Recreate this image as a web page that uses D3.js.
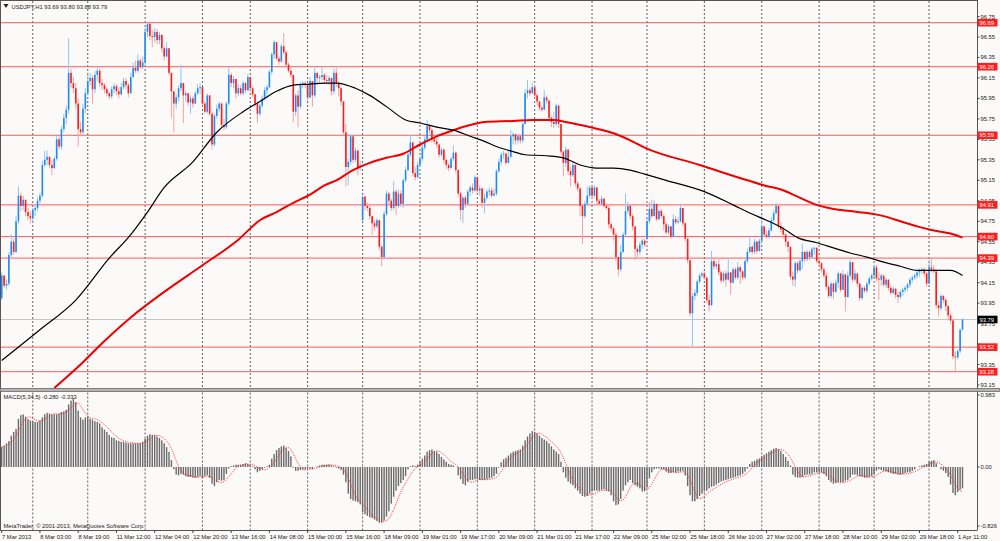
<!DOCTYPE html>
<html>
<head>
<meta charset="utf-8">
<script src="https://cdn.jsdelivr.net/npm/d3@7"></script>
<style>
body { margin: 0; background: #fcf9f9; }
svg { display: block; font-family: "Liberation Sans", Arial, sans-serif; }
</style>
</head>
<body>
<svg width="1000" height="541"></svg>
<script>
// USDJPY H1, bar 0 = 7 Mar 2013 11:00
var firstOpen = 94.00;
var gapOpens = { 151: 94.76, 270: 94.58 };

var closes = [
  94.22,94.12,94.14,94.42,94.55,94.45,94.75,95.00,94.90,94.96,
  94.84,94.80,94.78,94.86,94.88,94.95,95.00,95.30,95.35,95.38,
  95.30,95.27,95.36,95.55,95.48,95.65,95.76,95.84,96.20,96.10,
  96.05,95.90,95.65,95.62,95.85,96.00,96.12,96.15,96.04,96.18,
  96.22,96.10,96.08,96.04,96.00,95.97,96.04,96.07,96.02,95.99,
  96.06,96.12,96.08,96.00,96.16,96.25,96.22,96.32,96.26,96.30,
  96.60,96.68,96.56,96.55,96.60,96.52,96.57,96.44,96.36,96.44,
  96.20,96.02,95.90,95.96,96.05,96.10,95.98,96.00,95.91,95.95,
  95.90,96.00,96.05,96.06,95.90,95.82,95.98,95.80,95.50,95.78,
  95.85,95.90,95.69,95.67,95.90,96.18,96.10,96.14,96.00,96.05,
  96.00,96.10,96.03,96.16,96.05,95.99,95.90,95.80,95.88,95.95,
  96.03,96.06,96.21,96.38,96.50,96.34,96.31,96.46,96.40,96.28,
  96.22,96.18,95.82,95.98,95.87,96.08,96.10,96.08,95.96,96.12,
  95.98,96.20,96.15,96.16,96.18,96.13,96.12,96.15,96.02,96.20,
  96.10,96.05,95.92,95.62,95.28,95.33,95.58,95.35,95.44,95.28,
  95.28,94.99,94.90,94.88,94.80,94.73,94.70,94.76,94.50,94.40,
  94.82,95.02,94.95,94.88,95.04,94.90,95.02,94.92,95.15,95.25,
  95.40,95.52,95.22,95.18,95.30,95.36,95.47,95.55,95.68,95.64,
  95.55,95.53,95.50,95.40,95.45,95.35,95.30,95.27,95.36,95.42,
  95.25,95.02,94.86,94.98,94.92,95.04,95.08,95.05,95.18,95.05,
  95.07,94.93,94.98,95.04,95.05,95.00,95.02,95.24,95.33,95.40,
  95.41,95.32,95.38,95.58,95.60,95.54,95.58,95.54,95.70,96.00,
  96.03,96.00,96.06,95.98,95.92,95.86,95.84,95.96,95.93,95.76,
  95.72,95.70,95.88,95.70,95.43,95.32,95.45,95.24,95.20,95.30,
  95.12,95.07,94.90,94.80,94.92,95.00,95.08,95.00,95.08,94.95,
  94.92,94.97,94.90,94.88,94.72,94.68,94.62,94.40,94.28,94.45,
  94.62,94.85,94.90,94.80,94.70,94.48,94.45,94.52,94.56,94.52,
  94.75,94.87,94.80,94.92,94.77,94.85,94.80,94.72,94.64,94.70,
  94.60,94.77,94.74,94.75,94.88,94.73,94.58,94.37,93.85,94.02,
  94.05,94.16,94.22,94.24,94.20,93.98,93.93,94.36,94.31,94.33,
  94.25,94.17,94.24,94.18,94.25,94.15,94.28,94.20,94.30,94.26,
  94.20,94.36,94.45,94.50,94.45,94.55,94.46,94.56,94.70,94.62,
  94.60,94.66,94.76,94.83,94.90,94.70,94.67,94.62,94.55,94.50,
  94.21,94.18,94.34,94.27,94.36,94.45,94.38,94.45,94.40,94.48,
  94.49,94.36,94.34,94.28,94.22,94.11,94.02,94.14,94.06,94.15,
  94.24,94.08,94.23,94.01,94.22,94.35,94.18,94.24,94.14,94.00,
  94.10,94.07,94.14,94.19,94.22,94.30,94.19,94.18,94.22,94.13,
  94.18,94.10,94.05,94.09,94.03,94.01,94.06,94.08,94.10,94.13,
  94.18,94.20,94.22,94.25,94.27,94.28,94.24,94.14,94.30,94.28,
  94.26,93.93,93.90,94.02,93.98,93.92,93.83,93.78,93.43,93.42,
  93.48,93.69,93.79
];

var highs = [
  94.25,94.22,94.18,94.45,94.62,94.58,94.80,95.09,95.03,95.00,
  94.96,94.88,94.85,94.88,94.92,94.98,95.03,95.34,95.44,95.44,
  95.38,95.35,95.38,95.58,95.58,95.68,95.80,95.88,96.54,96.24,
  96.16,96.10,95.95,95.72,95.90,96.05,96.18,96.20,96.18,96.22,
  96.26,96.24,96.14,96.10,96.06,96.02,96.07,96.10,96.09,96.06,
  96.10,96.15,96.15,96.10,96.20,96.30,96.32,96.38,96.34,96.36,
  96.64,96.70,96.68,96.62,96.64,96.63,96.60,96.58,96.46,96.50,
  96.44,96.20,96.02,95.99,96.08,96.28,96.10,96.02,96.00,95.98,
  95.97,96.02,96.09,96.10,96.02,95.92,96.00,95.96,95.82,95.80,
  95.89,95.92,95.91,95.75,95.92,96.26,96.20,96.17,96.14,96.09,
  96.08,96.12,96.11,96.19,96.16,96.07,96.00,95.92,95.90,95.98,
  96.06,96.08,96.23,96.40,96.52,96.50,96.36,96.48,96.59,96.42,
  96.30,96.25,96.18,96.00,96.03,96.11,96.12,96.12,96.08,96.16,
  96.12,96.26,96.20,96.18,96.26,96.20,96.18,96.17,96.12,96.24,
  96.25,96.12,96.06,95.92,95.70,95.36,95.60,95.58,95.47,95.45,
  95.34,95.00,95.00,94.93,94.92,94.80,94.76,94.78,94.76,94.52,
  94.85,95.05,95.04,94.97,95.14,95.06,95.06,95.05,95.17,95.28,
  95.42,95.59,95.52,95.28,95.33,95.38,95.50,95.58,95.74,95.70,
  95.66,95.58,95.56,95.50,95.47,95.46,95.36,95.32,95.38,95.49,
  95.43,95.26,95.04,95.00,95.00,95.06,95.10,95.12,95.20,95.18,
  95.10,95.08,95.02,95.06,95.08,95.08,95.07,95.26,95.36,95.43,
  95.44,95.42,95.44,95.64,95.62,95.60,95.60,95.60,95.72,96.04,
  96.13,96.06,96.10,96.08,96.00,95.92,95.88,96.03,95.98,95.92,
  95.78,95.82,95.90,95.88,95.70,95.44,95.48,95.45,95.28,95.32,
  95.30,95.14,95.08,94.92,94.95,95.09,95.10,95.09,95.10,95.08,
  94.97,95.00,94.98,94.92,94.90,94.74,94.70,94.64,94.40,94.52,
  94.64,95.02,94.94,94.91,94.82,94.70,94.50,94.55,94.58,94.58,
  94.77,94.94,94.96,94.96,94.92,94.87,94.87,94.82,94.74,94.72,
  94.70,94.82,94.80,94.79,94.92,94.88,94.74,94.58,94.36,94.05,
  94.08,94.18,94.24,94.26,94.26,94.20,94.03,94.46,94.38,94.36,
  94.38,94.27,94.26,94.27,94.39,94.25,94.30,94.30,94.35,94.32,
  94.27,94.38,94.48,94.61,94.52,94.58,94.56,94.58,94.81,94.70,
  94.66,94.68,94.79,94.86,94.93,94.88,94.74,94.70,94.63,94.56,
  94.50,94.26,94.36,94.36,94.38,94.53,94.46,94.47,94.47,94.50,
  94.50,94.50,94.40,94.35,94.30,94.25,94.13,94.16,94.15,94.18,
  94.26,94.24,94.27,94.24,94.26,94.39,94.35,94.28,94.24,94.15,
  94.12,94.12,94.16,94.21,94.24,94.32,94.32,94.25,94.24,94.22,
  94.20,94.18,94.12,94.11,94.10,94.06,94.08,94.10,94.12,94.15,
  94.20,94.22,94.24,94.27,94.29,94.30,94.30,94.25,94.37,94.38,
  94.32,94.28,93.97,94.04,94.03,94.00,93.93,93.85,93.80,93.48,
  93.50,93.70,93.80
];

var lows = [
  93.98,94.10,94.08,94.12,94.40,94.42,94.44,94.72,94.85,94.86,
  94.80,94.76,94.73,94.74,94.80,94.85,94.92,94.98,95.28,95.30,
  95.27,95.20,95.26,95.34,95.45,95.45,95.62,95.70,95.80,96.05,
  96.00,95.85,95.48,95.58,95.60,95.80,95.98,96.08,95.90,96.00,
  96.12,96.06,96.03,96.00,95.97,95.94,95.95,96.00,95.98,95.95,
  95.98,96.04,96.04,95.96,96.00,96.15,96.20,96.20,96.24,96.24,
  96.28,96.55,96.52,96.45,96.50,96.48,96.48,96.40,96.32,96.35,
  96.18,95.76,95.62,95.85,95.92,96.02,95.71,95.92,95.88,95.80,
  95.86,95.90,95.98,95.99,95.88,95.80,95.80,95.78,95.45,95.48,
  95.75,95.82,95.66,95.64,95.65,95.88,96.06,96.05,95.95,95.97,
  95.98,95.98,96.00,96.02,96.02,95.96,95.87,95.71,95.78,95.86,
  95.93,95.95,96.05,96.18,96.34,96.32,96.28,96.30,96.38,96.26,
  96.20,96.15,95.72,95.78,95.67,95.85,96.05,96.05,95.93,95.95,
  95.87,95.96,96.08,96.10,96.13,96.10,96.09,96.08,95.98,95.99,
  96.06,95.97,95.88,95.60,95.09,95.10,95.30,95.32,95.33,95.20,
  95.24,94.76,94.86,94.85,94.77,94.62,94.66,94.68,94.47,94.31,
  94.38,94.80,94.92,94.85,94.86,94.81,94.88,94.89,94.88,95.13,
  95.24,95.38,95.19,95.15,95.17,95.28,95.34,95.45,95.52,95.61,
  95.52,95.50,95.47,95.37,95.38,95.32,95.26,95.24,95.26,95.34,
  95.22,94.99,94.76,94.73,94.88,94.90,95.00,95.02,95.04,95.02,
  95.00,94.88,94.83,94.96,95.00,94.98,95.00,95.00,95.22,95.30,
  95.36,95.30,95.35,95.37,95.50,95.50,95.51,95.51,95.52,95.70,
  95.95,95.98,96.00,95.95,95.88,95.83,95.82,95.84,95.90,95.73,
  95.67,95.66,95.68,95.66,95.40,95.19,95.28,95.20,95.09,95.18,
  95.09,95.04,94.80,94.53,94.78,94.90,94.98,94.97,94.98,94.92,
  94.90,94.90,94.88,94.86,94.68,94.65,94.56,94.36,94.21,94.26,
  94.44,94.60,94.82,94.77,94.66,94.37,94.40,94.42,94.48,94.50,
  94.56,94.73,94.78,94.80,94.75,94.76,94.78,94.66,94.62,94.62,
  94.58,94.60,94.72,94.72,94.74,94.70,94.55,94.34,93.82,93.53,
  93.98,94.02,94.14,94.20,94.18,93.95,93.87,93.92,94.28,94.28,
  94.22,94.14,94.15,94.11,94.17,94.03,94.14,94.18,94.18,94.14,
  94.18,94.19,94.34,94.44,94.42,94.43,94.43,94.45,94.54,94.60,
  94.58,94.58,94.65,94.74,94.82,94.68,94.64,94.58,94.50,94.45,
  94.18,94.12,94.11,94.24,94.26,94.28,94.35,94.36,94.37,94.39,
  94.42,94.34,94.32,94.25,94.20,94.08,94.00,94.00,93.99,94.05,
  94.10,94.06,94.08,93.87,94.00,94.20,94.15,94.16,94.11,93.97,
  93.98,94.05,94.05,94.12,94.17,94.20,94.16,93.98,94.12,94.11,
  94.10,94.07,94.03,94.04,94.00,93.95,93.99,94.02,94.05,94.07,
  94.10,94.15,94.18,94.19,94.21,94.23,94.21,94.11,94.14,94.25,
  94.24,93.90,93.82,93.88,93.95,93.87,93.78,93.75,93.40,93.28,
  93.40,93.46,93.68
];

// MACD(5,34,5) main line, one value per bar
var macd = [
  0.26,0.28,0.31,0.34,0.41,0.46,0.50,0.63,0.68,0.69,
  0.66,0.63,0.61,0.60,0.59,0.59,0.61,0.65,0.69,0.71,
  0.70,0.69,0.69,0.69,0.70,0.72,0.73,0.75,0.82,0.87,
  0.90,0.85,0.74,0.65,0.62,0.65,0.66,0.63,0.62,0.60,
  0.59,0.57,0.52,0.49,0.46,0.42,0.39,0.38,0.35,0.34,
  0.33,0.33,0.32,0.31,0.31,0.31,0.31,0.31,0.31,0.33,
  0.37,0.41,0.43,0.42,0.42,0.40,0.38,0.35,0.31,0.26,
  0.20,0.09,-0.03,-0.10,-0.11,-0.09,-0.10,-0.12,-0.13,-0.13,
  -0.14,-0.14,-0.13,-0.12,-0.13,-0.12,-0.11,-0.14,-0.22,-0.25,
  -0.20,-0.17,-0.18,-0.17,-0.09,-0.02,0.01,0.02,0.03,0.03,
  0.03,0.04,0.05,0.04,0.03,0.01,-0.03,-0.07,-0.05,-0.03,
  -0.01,0.01,0.03,0.11,0.17,0.22,0.25,0.27,0.28,0.25,
  0.21,0.14,-0.01,-0.05,-0.05,-0.04,-0.03,-0.03,-0.02,-0.02,
  -0.03,0.00,0.01,0.02,0.03,0.03,0.03,0.03,0.02,0.01,
  -0.01,-0.02,-0.04,-0.10,-0.20,-0.35,-0.42,-0.44,-0.45,-0.46,
  -0.49,-0.59,-0.62,-0.64,-0.66,-0.67,-0.69,-0.71,-0.73,-0.73,
  -0.70,-0.65,-0.58,-0.48,-0.39,-0.31,-0.25,-0.21,-0.17,-0.12,
  -0.03,0.01,0.02,0.01,0.03,0.07,0.11,0.15,0.20,0.22,
  0.23,0.21,0.20,0.17,0.13,0.10,0.07,0.04,0.03,0.02,
  0.00,-0.11,-0.16,-0.22,-0.24,-0.19,-0.17,-0.17,-0.16,-0.16,
  -0.17,-0.17,-0.17,-0.16,-0.15,-0.14,-0.12,-0.09,-0.01,0.06,
  0.10,0.12,0.15,0.18,0.20,0.21,0.22,0.23,0.28,0.35,
  0.40,0.44,0.47,0.46,0.44,0.41,0.38,0.36,0.34,0.31,
  0.27,0.23,0.20,0.17,0.07,-0.07,-0.14,-0.19,-0.22,-0.24,
  -0.28,-0.31,-0.35,-0.38,-0.39,-0.38,-0.35,-0.32,-0.31,-0.31,
  -0.31,-0.30,-0.29,-0.31,-0.32,-0.37,-0.45,-0.50,-0.49,-0.42,
  -0.31,-0.24,-0.20,-0.17,-0.21,-0.24,-0.26,-0.28,-0.32,-0.32,
  -0.27,-0.15,-0.07,-0.03,-0.02,-0.02,-0.03,-0.03,-0.06,-0.08,
  -0.08,-0.07,-0.07,-0.06,-0.06,-0.05,-0.11,-0.25,-0.37,-0.45,
  -0.45,-0.42,-0.38,-0.35,-0.32,-0.31,-0.28,-0.26,-0.25,-0.23,
  -0.21,-0.19,-0.18,-0.17,-0.16,-0.15,-0.14,-0.13,-0.12,-0.11,
  -0.09,-0.06,-0.02,0.04,0.07,0.08,0.10,0.11,0.14,0.16,
  0.18,0.20,0.22,0.24,0.25,0.23,0.21,0.17,0.13,0.08,
  0.02,-0.10,-0.13,-0.14,-0.14,-0.13,-0.11,-0.10,-0.10,-0.09,
  -0.07,-0.07,-0.07,-0.07,-0.09,-0.12,-0.17,-0.20,-0.22,-0.21,
  -0.20,-0.20,-0.20,-0.18,-0.17,-0.14,-0.10,-0.10,-0.11,-0.12,
  -0.13,-0.14,-0.14,-0.13,-0.12,-0.10,-0.05,-0.03,-0.04,-0.05,
  -0.06,-0.07,-0.08,-0.09,-0.09,-0.10,-0.10,-0.09,-0.08,-0.07,
  -0.07,-0.05,-0.03,0.00,0.01,0.02,0.03,0.04,0.07,0.08,
  0.09,0.05,0.00,-0.03,-0.05,-0.08,-0.13,-0.23,-0.34,-0.37,
  -0.33,-0.30,-0.28
];

// moving averages, read at selected bars
var blackBars = [0,16,31,45,54,61,68,80,90,101,108,115,122,129,135,140,148,154,161,169,175,182,189,196,202,207,214,219,228,235,242,249,256,263,269,278,294,306,313,320,327,333,341,348,355,362,369,376,383,390,397,402];
var blackMA = [93.39,93.69,93.98,94.39,94.62,94.84,95.08,95.33,95.62,95.82,95.92,96.02,96.08,96.09,96.10,96.10,96.05,95.98,95.87,95.74,95.71,95.67,95.64,95.58,95.53,95.48,95.43,95.40,95.39,95.37,95.30,95.27,95.27,95.25,95.21,95.15,95.04,94.91,94.83,94.76,94.68,94.59,94.54,94.49,94.44,94.40,94.35,94.31,94.27,94.27,94.27,94.22];
var redBars = [22,33,43,54,68,84,99,108,115,122,129,135,140,147,154,161,168,175,182,189,196,202,214,222,231,236,246,256,263,269,292,312,319,326,333,341,348,355,362,369,376,383,390,397,402];
var redMA = [93.12,93.35,93.58,93.81,94.06,94.32,94.57,94.76,94.84,94.93,95.01,95.10,95.15,95.25,95.32,95.37,95.41,95.50,95.58,95.64,95.69,95.72,95.73,95.74,95.74,95.72,95.67,95.61,95.54,95.47,95.30,95.15,95.10,95.06,94.99,94.91,94.87,94.85,94.83,94.80,94.75,94.70,94.66,94.63,94.59];

var levels = [96.69, 96.26, 95.59, 94.91, 94.60, 94.39, 93.52, 93.28];
var lastPrice = 93.79;
var priceTicks = [96.75,96.55,96.35,96.15,95.95,95.75,95.55,95.35,95.15,94.95,94.75,94.55,94.35,94.15,93.95,93.75,93.55,93.35,93.15];
var macdTicks = [0.983, 0.00, -0.826];
var dayStarts = [13,36,60,84,104,128,151,175,199,223,247,270,294,318,342,365,388];
var timeLabels = ["7 Mar 2013","8 Mar 03:00","8 Mar 19:00","11 Mar 12:00","12 Mar 04:00","12 Mar 20:00","13 Mar 16:00","14 Mar 08:00","15 Mar 00:00","15 Mar 16:00","18 Mar 09:00","19 Mar 01:00","19 Mar 17:00","20 Mar 09:00","21 Mar 01:00","21 Mar 17:00","22 Mar 09:00","25 Mar 02:00","25 Mar 18:00","26 Mar 10:00","27 Mar 02:00","27 Mar 18:00","28 Mar 10:00","29 Mar 02:00","29 Mar 18:00","1 Apr 11:00"];
var labelStep = 16;

var svg = d3.select("svg"),
    width = 1000,
    height = 541;

var axisX = 977,
    priceBottom = 388.5,
    macdTop = 391.5,
    macdBottom = 530;

var fontSize = "5.8px";

var x = d3.scaleLinear().domain([0, closes.length - 1]).range([1.7, 962.5]);
var y = d3.scaleLinear().domain([93.28, 96.69]).range([371.7, 22.7]);
var ym = d3.scaleLinear().domain([-0.826, 0.983]).range([530, 392]);

var bars = closes.map(function (c, i) {
    var o = i === 0 ? firstOpen : (gapOpens[i] !== undefined ? gapOpens[i] : closes[i - 1]);
    return { i: i, o: o, c: c, h: Math.max(highs[i], o, c), l: Math.min(lows[i], o, c) };
});

// signal line = 5 bar average of MACD
var signal = macd.map(function (v, i) {
    return d3.mean(macd.slice(Math.max(0, i - 4), i + 1));
});

var defs = svg.append("defs");
defs.append("clipPath").attr("id", "clipPrice")
    .append("rect").attr("x", 0).attr("y", 1).attr("width", axisX).attr("height", priceBottom - 1);
defs.append("clipPath").attr("id", "clipMacd")
    .append("rect").attr("x", 0).attr("y", macdTop).attr("width", axisX).attr("height", macdBottom - macdTop);

svg.append("rect").attr("width", width).attr("height", height).attr("fill", "#fcf9f9");

// day separators
var grid = svg.append("g").attr("stroke", "#3a3a3a").attr("stroke-width", 0.8).attr("stroke-dasharray", "2,2");
dayStarts.forEach(function (d) {
    grid.append("line").attr("x1", x(d)).attr("x2", x(d)).attr("y1", 1).attr("y2", priceBottom);
    grid.append("line").attr("x1", x(d)).attr("x2", x(d)).attr("y1", macdTop + 1).attr("y2", macdBottom);
});

var price = svg.append("g").attr("clip-path", "url(#clipPrice)");

price.append("line")
    .attr("x1", 0).attr("x2", axisX)
    .attr("y1", y(lastPrice)).attr("y2", y(lastPrice))
    .attr("stroke", "#c4c4c4").attr("stroke-width", 1);

price.selectAll("line.level")
    .data(levels)
    .enter().append("line")
    .attr("class", "level")
    .attr("x1", 0).attr("x2", axisX)
    .attr("y1", d => y(d)).attr("y2", d => y(d))
    .attr("stroke", "#ff5a5a").attr("stroke-width", 1);

var candle = price.selectAll("g.candle")
    .data(bars)
    .enter().append("g")
    .attr("class", "candle");

candle.append("line")
    .attr("x1", d => x(d.i)).attr("x2", d => x(d.i))
    .attr("y1", d => y(d.h)).attr("y2", d => y(d.l))
    .attr("stroke", d => d.c >= d.o ? "#8fc5f7" : "#f6a3a3")
    .attr("stroke-width", 1);

candle.append("rect")
    .attr("x", d => x(d.i) - 0.8)
    .attr("width", 1.6)
    .attr("y", d => y(Math.max(d.o, d.c)))
    .attr("height", d => Math.max(0.8, Math.abs(y(d.o) - y(d.c))))
    .attr("fill", d => d.c >= d.o ? "#1e8cf5" : "#ff1c1c");

var maLine = d3.line()
    .x(d => x(d[0]))
    .y(d => y(d[1]))
    .curve(d3.curveMonotoneX);

price.append("path")
    .datum(d3.zip(redBars, redMA))
    .attr("d", maLine)
    .attr("fill", "none")
    .attr("stroke", "#f00000")
    .attr("stroke-width", 2);

price.append("path")
    .datum(d3.zip(blackBars, blackMA))
    .attr("d", maLine)
    .attr("fill", "none")
    .attr("stroke", "#000")
    .attr("stroke-width", 1.2);

// MACD window
var macdG = svg.append("g").attr("clip-path", "url(#clipMacd)");

macdG.selectAll("rect")
    .data(macd)
    .enter().append("rect")
    .attr("x", (d, i) => x(i) - 0.7)
    .attr("width", 1.4)
    .attr("y", d => Math.min(ym(d), ym(0)))
    .attr("height", d => Math.abs(ym(d) - ym(0)))
    .attr("fill", "#6a6a6a");

macdG.append("path")
    .datum(signal)
    .attr("d", d3.line().x((d, i) => x(i)).y(d => ym(d)))
    .attr("fill", "none")
    .attr("stroke", "#ff2a2a")
    .attr("stroke-width", 0.9)
    .attr("stroke-dasharray", "1.2,1.2");

// frame
var frame = svg.append("g").attr("stroke", "#555").attr("fill", "none");
frame.append("line").attr("x1", 0).attr("x2", axisX).attr("y1", 0.5).attr("y2", 0.5);
frame.append("line").attr("x1", 0.5).attr("x2", 0.5).attr("y1", 0).attr("y2", macdBottom);
frame.append("line").attr("x1", axisX + 0.5).attr("x2", axisX + 0.5).attr("y1", 0).attr("y2", macdBottom + 0.5);
frame.append("line").attr("x1", 0).attr("x2", axisX).attr("y1", macdBottom + 0.5).attr("y2", macdBottom + 0.5);
svg.append("rect")
    .attr("x", 0).attr("y", priceBottom).attr("width", width).attr("height", 3)
    .attr("fill", "#b4b4b4").attr("stroke", "#5a5a5a").attr("stroke-width", 0.7);

// right price axis; a tick label sitting right under a flag is left out
var flags = levels.concat([lastPrice]);
var axisG = svg.append("g").attr("font-size", fontSize).attr("fill", "#222");
priceTicks.forEach(function (p) {
    axisG.append("line").attr("x1", axisX).attr("x2", axisX + 2.5)
        .attr("y1", y(p)).attr("y2", y(p)).attr("stroke", "#444");
    var hidden = flags.some(function (f) { return Math.abs(y(f) - y(p)) < 3.6; });
    if (!hidden) {
        axisG.append("text").attr("x", axisX + 3.5).attr("y", y(p) + 2).text(p.toFixed(2));
    }
});

levels.forEach(function (v) {
    axisG.append("rect").attr("x", axisX + 0.5).attr("y", y(v) - 3.8)
        .attr("width", 20).attr("height", 7.6).attr("fill", "#ff1e1e");
    axisG.append("text").attr("x", axisX + 2.5).attr("y", y(v) + 2)
        .attr("fill", "#fff").text(v.toFixed(2));
});

axisG.append("rect").attr("x", axisX + 0.5).attr("y", y(lastPrice) - 3.8)
    .attr("width", 20).attr("height", 7.6).attr("fill", "#000");
axisG.append("text").attr("x", axisX + 2.5).attr("y", y(lastPrice) + 2)
    .attr("fill", "#fff").text(lastPrice.toFixed(2));

macdTicks.forEach(function (m) {
    var ty = Math.min(Math.max(ym(m), 395), 526);
    axisG.append("line").attr("x1", axisX).attr("x2", axisX + 2.5)
        .attr("y1", ty).attr("y2", ty).attr("stroke", "#444");
    axisG.append("text").attr("x", axisX + 3.5).attr("y", ty + 2)
        .text(m === 0 ? "0.00" : m.toFixed(3));
});

// time axis
var timeG = svg.append("g").attr("font-size", fontSize).attr("fill", "#222");
timeLabels.forEach(function (t, k) {
    var tx = x(k * labelStep);
    timeG.append("line").attr("x1", tx).attr("x2", tx)
        .attr("y1", macdBottom + 0.5).attr("y2", macdBottom + 3).attr("stroke", "#444");
    timeG.append("text").attr("x", tx + 0.3).attr("y", 538.5).text(t);
});

// captions
svg.append("path").attr("d", "M3.5,4 L8.5,4 L6,8 Z").attr("fill", "#222");
svg.append("text").attr("x", 11.5).attr("y", 8.6)
    .attr("font-size", fontSize).attr("fill", "#222")
    .text("USDJPY,H1  93.69 93.80 93.68 93.79");
svg.append("text").attr("x", 3.5).attr("y", 398.5)
    .attr("font-size", fontSize).attr("fill", "#222")
    .text("MACD(5,34,5) -0.280 -0.333");
svg.append("text").attr("x", 3.5).attr("y", 527.5)
    .attr("font-size", fontSize).attr("fill", "#222")
    .text("MetaTrader, © 2001-2013, MetaQuotes Software Corp.");
</script>
</body>
</html>
